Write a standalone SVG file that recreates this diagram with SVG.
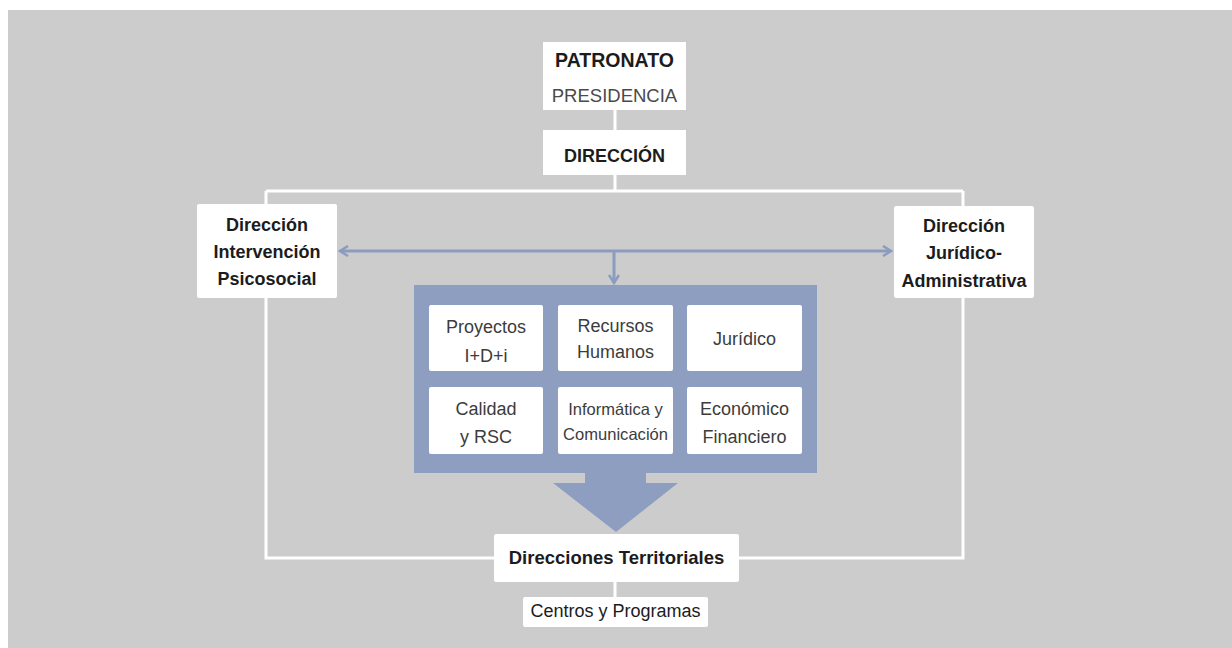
<svg xmlns="http://www.w3.org/2000/svg" width="1232" height="648" viewBox="0 0 1232 648">
<defs>
<style>
.box{fill:#ffffff;}
.wl{stroke:#ffffff;stroke-width:3;fill:none;}
.bl{stroke:#8b9cbe;stroke-width:3;fill:none;}
.b{font-family:"Liberation Sans",Arial,sans-serif;font-weight:bold;fill:#1c1c1c;text-anchor:middle;}
.r{font-family:"Liberation Sans",Arial,sans-serif;fill:#3c3c3c;text-anchor:middle;}
.g{font-family:"Liberation Sans",Arial,sans-serif;fill:#4a4a4a;text-anchor:middle;}
</style>
<marker id="ah" viewBox="0 0 12 12" refX="10" refY="6" markerWidth="12" markerHeight="12" markerUnits="userSpaceOnUse" orient="auto-start-reverse">
<path d="M2,1 L10,6 L2,11" fill="none" stroke="#8b9cbe" stroke-width="2.5"/>
</marker>
</defs>
<rect x="0" y="0" width="1232" height="648" fill="#ffffff"/>
<rect x="8" y="10" width="1224" height="638" fill="#cccccc"/>

<g id="connectors">
<path class="wl" d="M615,110 V130 M615,175 V191 M266,191 H963 M266,191 V558 H963 V191 M615,582 V597"/>
<path class="bl" d="M340,251 H891" marker-start="url(#ah)" marker-end="url(#ah)"/>
<path class="bl" d="M614,251 V283" marker-end="url(#ah)"/>
</g>

<g id="services">
<path d="M414,285 H817 V473 H646 V483 H678 L616,532 L553,483 H585 V473 H414 Z" fill="#8d9ec0"/>
</g>

<g id="patronato">
<rect class="box" x="543" y="42" width="143" height="68"/>
<text class="b" x="614.5" y="67" font-size="19.5">PATRONATO</text>
<text class="g" x="614.5" y="102" font-size="18.5">PRESIDENCIA</text>
</g>

<g id="direccion">
<rect class="box" x="543" y="130" width="143" height="45"/>
<text class="b" x="614.5" y="162" font-size="18">DIRECCIÓN</text>
</g>

<g id="dir-intervencion">
<rect class="box" x="197" y="204" width="140" height="94" rx="2"/>
<text class="b" x="267" y="231" font-size="18">Dirección</text>
<text class="b" x="267" y="258" font-size="18">Intervención</text>
<text class="b" x="267" y="285" font-size="18">Psicosocial</text>
</g>

<g id="dir-juridico">
<rect class="box" x="894" y="206" width="140" height="92" rx="2"/>
<text class="b" x="964" y="232" font-size="18">Dirección</text>
<text class="b" x="964" y="259" font-size="18">Jurídico-</text>
<text class="b" x="964" y="287" font-size="18">Administrativa</text>
</g>

<g id="proyectos">
<rect class="box" x="429" y="305" width="114" height="66" rx="2"/>
<text class="r" x="486" y="333" font-size="18">Proyectos</text>
<text class="r" x="486" y="362" font-size="18">I+D+i</text>
</g>
<g id="rrhh">
<rect class="box" x="558" y="305" width="115" height="66" rx="2"/>
<text class="r" x="615.5" y="332" font-size="18">Recursos</text>
<text class="r" x="615.5" y="358" font-size="18">Humanos</text>
</g>
<g id="juridico">
<rect class="box" x="687" y="305" width="115" height="66" rx="2"/>
<text class="r" x="744.5" y="345" font-size="18">Jurídico</text>
</g>
<g id="calidad">
<rect class="box" x="429" y="387" width="114" height="67" rx="2"/>
<text class="r" x="486" y="415" font-size="18">Calidad</text>
<text class="r" x="486" y="443" font-size="18">y RSC</text>
</g>
<g id="informatica">
<rect class="box" x="558" y="387" width="115" height="67" rx="2"/>
<text class="r" x="615.5" y="415" font-size="16.5">Informática y</text>
<text class="r" x="615.5" y="440" font-size="16.5" textLength="105" lengthAdjust="spacingAndGlyphs">Comunicación</text>
</g>
<g id="economico">
<rect class="box" x="687" y="387" width="115" height="67" rx="2"/>
<text class="r" x="744.5" y="415" font-size="18">Económico</text>
<text class="r" x="744.5" y="443" font-size="18">Financiero</text>
</g>

<g id="territoriales">
<rect class="box" x="494" y="534" width="245" height="48" rx="2"/>
<text class="b" x="616.5" y="564" font-size="18.5">Direcciones Territoriales</text>
</g>

<g id="centros">
<rect class="box" x="523" y="597" width="185" height="30" rx="2"/>
<text class="b" x="615.5" y="617" font-size="18" font-weight="normal" style="font-weight:normal">Centros y Programas</text>
</g>
</svg>
